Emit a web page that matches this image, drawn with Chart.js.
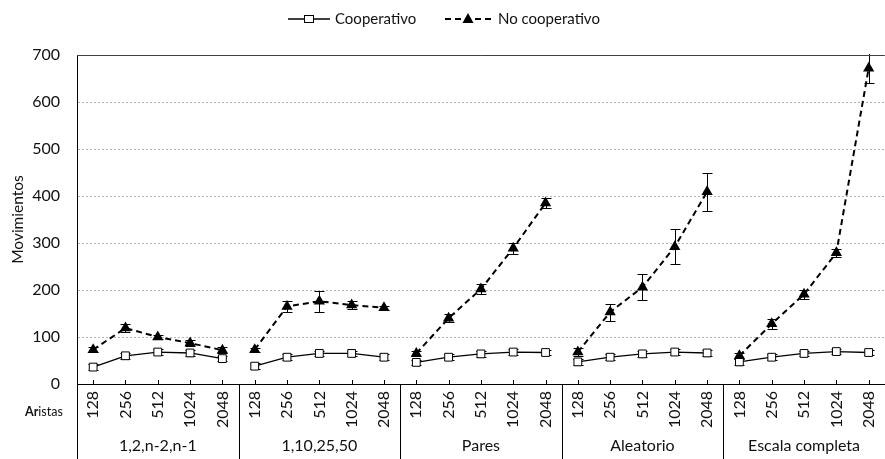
<!DOCTYPE html>
<html>
<head>
<meta charset="utf-8">
<script src="https://cdn.jsdelivr.net/npm/chart.js@4/dist/chart.umd.min.js"></script>
<style>
  html, body { margin: 0; padding: 0; overflow: hidden; background: #fff; }
  #wrap { position: relative; width: 895px; height: 459px; }
</style>
</head>
<body>
<div id="wrap"><canvas id="chart"></canvas></div>
<script>
// Edge counts tested for each topology
const aristas = ['128', '256', '512', '1024', '2048'];
// Topology groups along the x axis
const grupos = ['1,2,n-2,n-1', '1,10,25,50', 'Pares', 'Aleatorio', 'Escala completa'];

// Mean moves and error (±) per point, five topologies × five edge counts
const cooperativo = [36, 60, 68, 66, 54,  38, 57, 65, 65, 57,  46, 57, 64, 68, 67,  47, 57, 64, 68, 66,  47, 57, 65, 69, 67];
const cooperativoErr = [6, 6, 6, 6, 6,  6, 6, 6, 6, 6,  6, 6, 6, 6, 6,  6, 6, 6, 6, 6,  6, 6, 6, 6, 6];
const noCooperativo = [73, 119, 100, 87, 72,  73, 165, 176, 168, 162,  65, 140, 202, 289, 385,  68, 153, 206, 292, 409,  60, 128, 191, 279, 672];
const noCooperativoErr = [5, 9, 5, 6, 6,  4, 12, 22, 8, 5,  5, 8, 10, 12, 11,  8, 18, 28, 37, 40,  6, 10, 10, 8, 32];

const yTicks = [0, 100, 200, 300, 400, 500, 600, 700];

const FONT = 'Lato, "Open Sans", sans-serif';
const labels = grupos.flatMap(() => aristas);

// No line segment crosses from one topology group to the next
const breakAtGroups = ctx => (ctx.p0DataIndex % aristas.length === aristas.length - 1) ? 'rgba(0,0,0,0)' : '#000';

function drawRectMarker(ctx, x, y) {
  ctx.save();
  ctx.fillStyle = '#fff';
  ctx.strokeStyle = '#000';
  ctx.lineWidth = 1;
  ctx.fillRect(x - 4.5, y - 3.5, 9, 7);
  ctx.strokeRect(x - 4.5, y - 3.5, 9, 7);
  ctx.restore();
}
function drawTriangleMarker(ctx, x, y) {
  ctx.save();
  ctx.fillStyle = '#000';
  ctx.beginPath();
  ctx.moveTo(x, y - 6);
  ctx.lineTo(x + 5.5, y + 4);
  ctx.lineTo(x - 5.5, y + 4);
  ctx.closePath();
  ctx.fill();
  ctx.restore();
}

const decor = {
  id: 'decor',
  beforeDatasetsDraw(chart) {
    // Error bars with caps, clipped to the plot area
    const { ctx, chartArea: a, scales: { x, y } } = chart;
    const sets = [[cooperativo, cooperativoErr], [noCooperativo, noCooperativoErr]];
    ctx.save();
    ctx.beginPath();
    ctx.rect(a.left, a.top - 1, a.right - a.left, a.bottom - a.top + 1);
    ctx.clip();
    ctx.strokeStyle = '#000';
    ctx.lineWidth = 1;
    sets.forEach(([vals, errs]) => {
      vals.forEach((v, i) => {
        const px = Math.round(x.getPixelForValue(i)) + 0.5;
        const top = Math.round(y.getPixelForValue(v + errs[i])) + 0.5;
        const bot = Math.round(y.getPixelForValue(v - errs[i])) + 0.5;
        ctx.beginPath();
        ctx.moveTo(px, top); ctx.lineTo(px, bot);
        ctx.moveTo(px - 5, top); ctx.lineTo(px + 5, top);
        ctx.moveTo(px - 5, bot); ctx.lineTo(px + 5, bot);
        ctx.stroke();
      });
    });
    ctx.restore();
  },
  afterDraw(chart) {
    const { ctx, chartArea: a, scales: { x } } = chart;
    const H = chart.height;
    ctx.save();
    // top frame line
    ctx.strokeStyle = '#404040';
    ctx.lineWidth = 1;
    ctx.beginPath();
    ctx.moveTo(a.left, a.top + 0.5); ctx.lineTo(a.right, a.top + 0.5);
    ctx.stroke();
    // inward tick marks at each category
    ctx.strokeStyle = '#000';
    ctx.beginPath();
    labels.forEach((_, i) => {
      const px = Math.round(x.getPixelForValue(i)) + 0.5;
      ctx.moveTo(px, a.bottom - 4); ctx.lineTo(px, a.bottom);
    });
    // left axis continued down through the label area
    ctx.moveTo(a.left + 0.5, a.bottom); ctx.lineTo(a.left + 0.5, H);
    // group dividers
    const n = aristas.length;
    const w = (a.right - a.left) / labels.length;
    for (let g = 1; g <= grupos.length; g++) {
      const px = Math.round(a.left + g * n * w) + 0.5;
      ctx.moveTo(px, a.bottom); ctx.lineTo(px, H);
    }
    ctx.stroke();
    // group names
    ctx.fillStyle = '#111';
    ctx.font = '16px ' + FONT;
    ctx.textAlign = 'center';
    ctx.textBaseline = 'middle';
    grupos.forEach((gname, g) => {
      ctx.fillText(gname, a.left + (g * n + n / 2) * w, 446);
    });
    // "Aristas" caption with bold "Ar"
    ctx.textAlign = 'left';
    ctx.font = 'bold 12.5px ' + FONT;
    const bx = 25;
    ctx.fillText('Ar', bx, 412);
    const bw = ctx.measureText('Ar').width;
    ctx.font = '12.5px ' + FONT;
    ctx.fillText('istas', bx + bw, 412);

    // legend
    const ly = 19;
    ctx.strokeStyle = '#000';
    ctx.lineWidth = 1.3;
    ctx.beginPath();
    ctx.moveTo(288, ly); ctx.lineTo(330, ly);
    ctx.stroke();
    drawRectMarker(ctx, 309, ly);
    ctx.lineWidth = 2;
    ctx.setLineDash([6, 4]);
    ctx.beginPath();
    ctx.moveTo(445, ly); ctx.lineTo(491, ly);
    ctx.stroke();
    ctx.setLineDash([]);
    drawTriangleMarker(ctx, 468, ly);
    ctx.fillStyle = '#111';
    ctx.font = '15px ' + FONT;
    ctx.textBaseline = 'middle';
    ctx.fillText('Cooperativo', 335, ly);
    ctx.fillText('No cooperativo', 498, ly);
    ctx.restore();
  }
};

new Chart(document.getElementById('chart'), {
  type: 'line',
  data: {
    labels: labels,
    datasets: [
      {
        label: 'Cooperativo',
        data: cooperativo,
        borderColor: '#000',
        borderWidth: 1.3,
        segment: { borderColor: breakAtGroups },
        pointStyle: 'rect',
        pointRadius: 5.5,
        pointBackgroundColor: '#fff',
        pointBorderColor: '#000',
        pointBorderWidth: 1,
        tension: 0,
        order: 2
      },
      {
        label: 'No cooperativo',
        data: noCooperativo,
        borderColor: '#000',
        borderWidth: 2,
        borderDash: [6, 4],
        segment: { borderColor: breakAtGroups },
        pointStyle: 'triangle',
        pointRadius: 6.5,
        pointBackgroundColor: '#000',
        pointBorderColor: '#000',
        pointBorderWidth: 0,
        tension: 0,
        order: 1
      }
    ]
  },
  options: {
    responsive: true,
    maintainAspectRatio: false,
    animation: false,
    layout: { padding: { top: 55, right: 0, bottom: 0, left: 0 } },
    plugins: {
      legend: { display: false },
      tooltip: { enabled: false }
    },
    scales: {
      x: {
        type: 'category',
        offset: true,
        grid: { display: false, drawTicks: false },
        border: { display: true, color: '#000', width: 1 },
        ticks: {
          autoSkip: false,
          minRotation: 90,
          maxRotation: 90,
          padding: 7,
          color: '#111',
          font: { family: FONT, size: 16 }
        },
        afterFit: s => { s.height = 75; }
      },
      y: {
        min: 0,
        max: 700,
        afterBuildTicks: s => { s.ticks = yTicks.map(v => ({ value: v })); },
        grid: {
          drawTicks: false,
          color: c => (c.tick && (c.tick.value === 0 || c.tick.value === 700)) ? 'rgba(0,0,0,0)' : '#b4b4b4',
          lineWidth: 1
        },
        border: { display: true, color: '#000', width: 1, dash: [2, 2] },
        ticks: {
          padding: 17,
          color: '#111',
          font: { family: FONT, size: 16 }
        },
        title: {
          display: true,
          text: 'Movimientos',
          color: '#111',
          font: { family: FONT, size: 15.5 },
          padding: { top: 9, bottom: 0 }
        },
        afterFit: s => { s.width = 77; }
      }
    }
  },
  plugins: [decor]
});
</script>
</body>
</html>
